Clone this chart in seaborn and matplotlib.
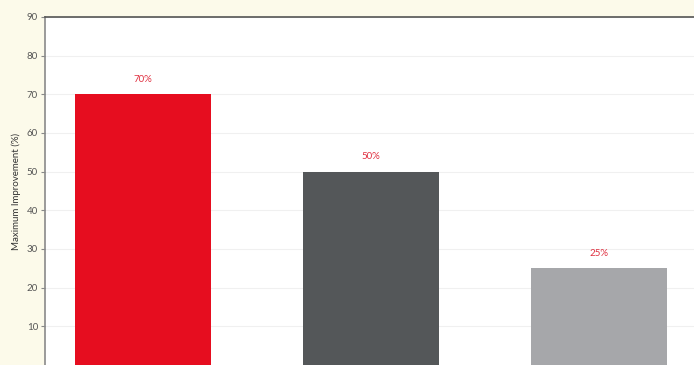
import matplotlib
matplotlib.use("Agg")
import matplotlib.pyplot as plt
import seaborn as sns
import pandas as pd

categories = ["Option A", "Option B", "Option C"]
values = [70, 50, 25]
labels = ["70%", "50%", "25%"]
colors = ["#e60d1f", "#545759", "#a6a7aa"]
yticks = [10, 20, 30, 40, 50, 60, 70, 80, 90]

sns.set_theme(style="white")
plt.rcParams['font.family'] = ['Lato', 'DejaVu Sans']

df = pd.DataFrame({"cat": categories, "val": values})

fig = plt.figure(figsize=(6.94, 3.65), dpi=100)
fig.patch.set_facecolor("#fcfaea")
ax = fig.add_axes([45/694, 0, 1 - 45/694, (365 - 17)/365])
ax.set_facecolor("white")

sns.barplot(data=df, x="cat", y="val", hue="cat", palette=colors,
            width=0.6, legend=False, ax=ax, saturation=1, linewidth=0)

for i, (v, l) in enumerate(zip(values, labels)):
    ax.text(i, v + 2.7, l, ha="center", va="bottom", color="#e03040", fontsize=7)

ax.set_ylim(0, 90)
ax.set_xlim(-0.43, 2.417)
ax.set_yticks(yticks)
ax.set_yticklabels([str(t) for t in yticks], fontsize=7, color="#555555")
ax.yaxis.grid(True, color="#f0f0f0", linewidth=0.8)
ax.set_axisbelow(True)
ax.tick_params(axis="y", length=3, width=0.8, color="#888888", pad=2, left=True)
ax.set_xticks([])
ax.set_xlabel("")
ax.set_ylabel("Maximum Improvement (%)", fontsize=7, color="#333333", labelpad=4)

ax.spines["left"].set_color("#8a8a8a")
ax.spines["left"].set_linewidth(1.2)
ax.spines["top"].set_color("#555555")
ax.spines["top"].set_linewidth(1.2)
ax.spines["right"].set_visible(False)
ax.spines["bottom"].set_visible(False)

fig.savefig("out.png", dpi=100, facecolor=fig.get_facecolor())
